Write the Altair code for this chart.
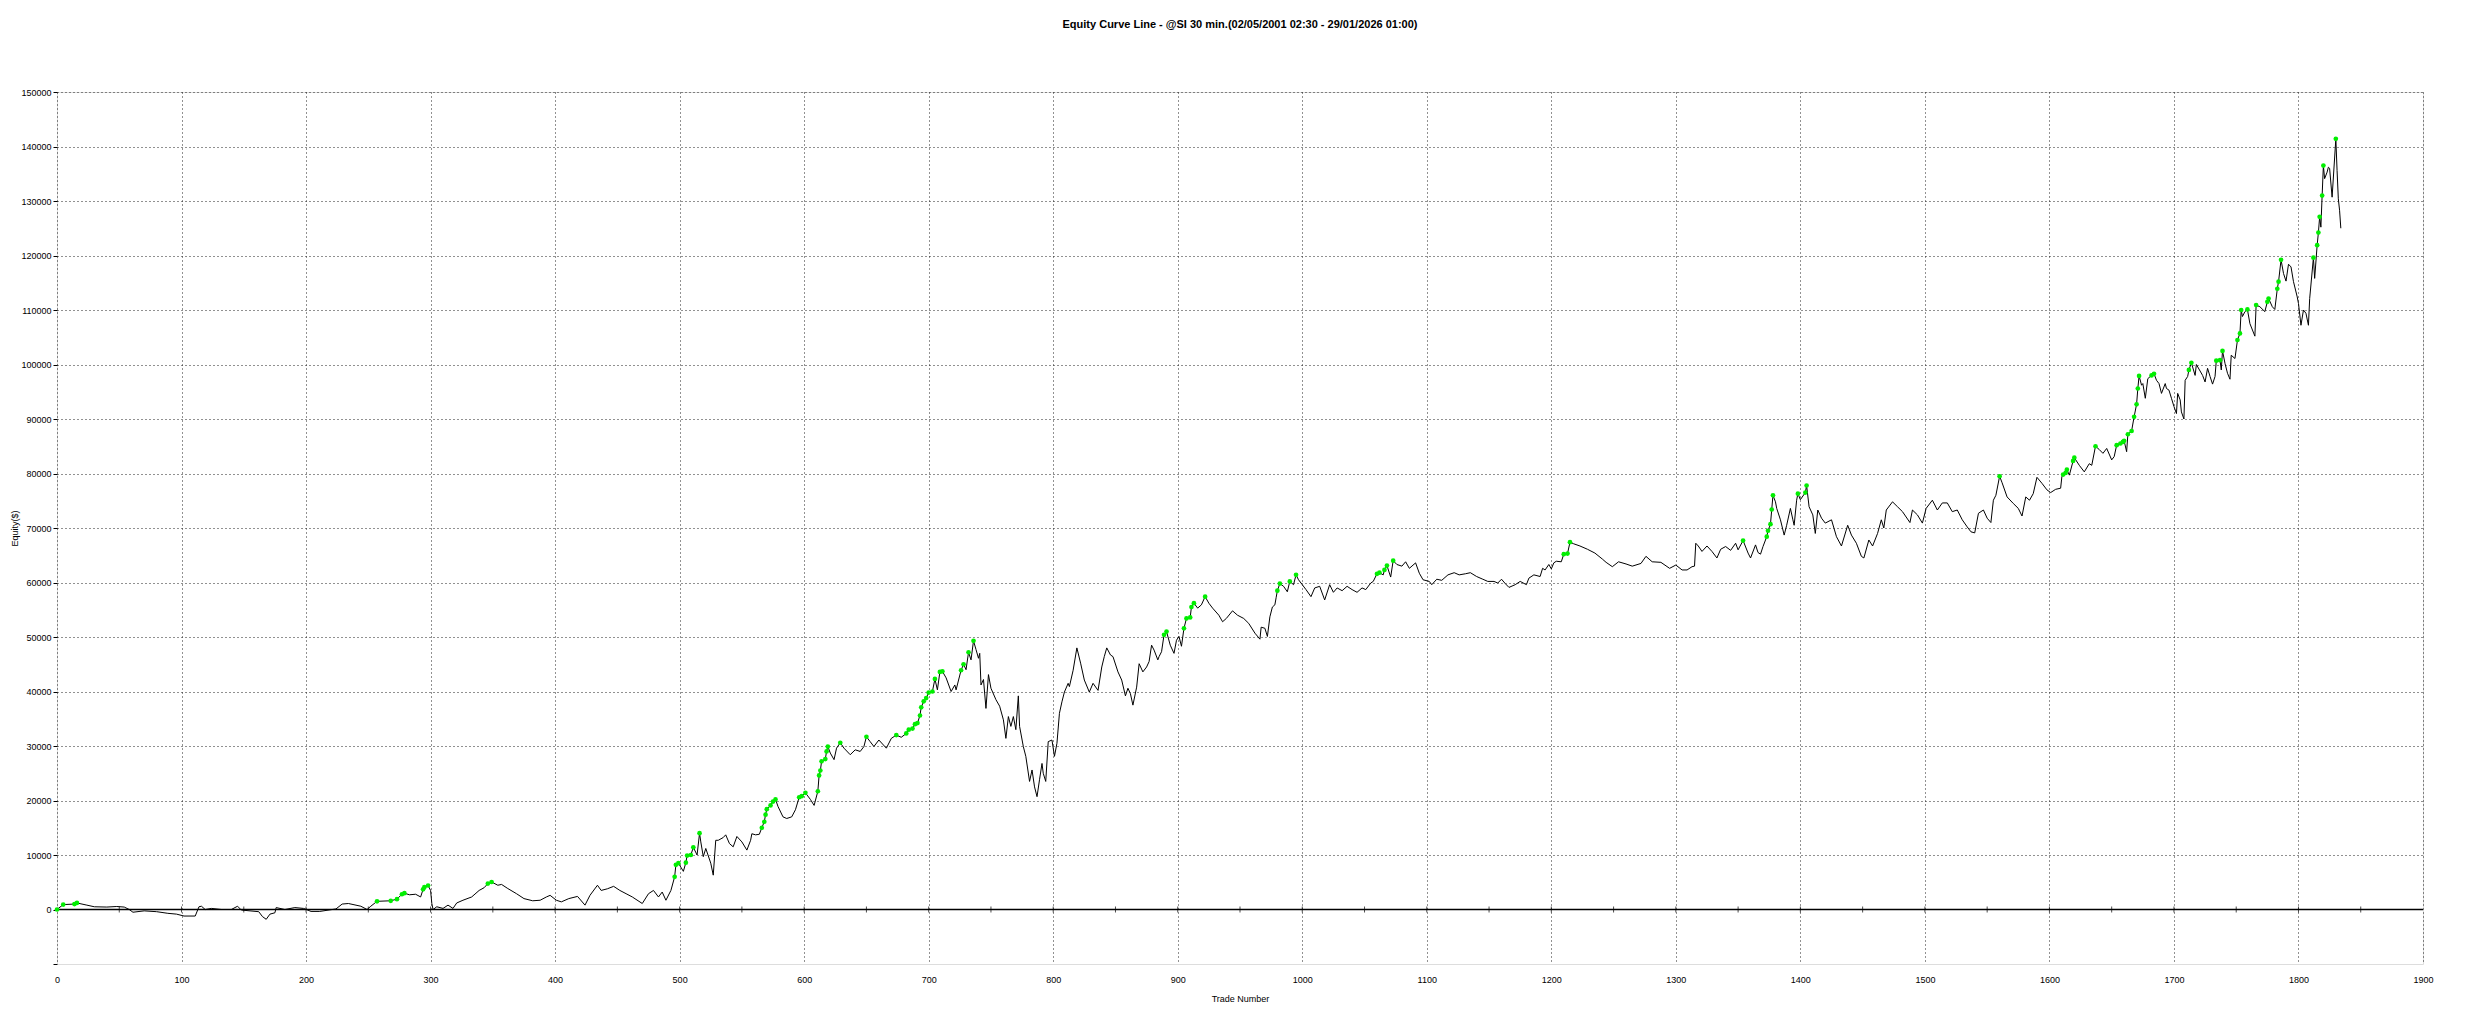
import altair as alt
import pandas as pd

TITLE = "Equity Curve Line - @SI 30 min.(02/05/2001 02:30 - 29/01/2026 01:00)"

trade_no = [
    0, 5, 14, 16, 24, 30, 40, 48, 54, 58, 61, 70, 80, 89, 96, 102, 111, 114, 116, 119,
    124, 132, 140, 145, 148, 155, 162, 165, 168, 171, 175, 176, 183, 191, 198, 204, 211, 221, 224, 229,
    234, 244, 249, 252, 257, 268, 273, 277, 279, 283, 288, 292, 294, 295, 298, 300, 301, 302, 305, 310,
    314, 318, 321, 326, 333, 339, 343, 346, 349, 354, 357, 362, 369, 375, 382, 388, 393, 396, 401, 405,
    411, 418, 424, 428, 434, 437, 442, 447, 452, 457, 462, 470, 475, 479, 483, 486, 489, 493, 496, 497,
    499, 503, 505, 506, 509, 511, 514, 516, 517, 519, 521, 525, 527, 529, 531, 535, 537, 540, 543, 546,
    550, 554, 557, 558, 561, 564, 566, 568, 569, 570, 573, 575, 577, 579, 583, 586, 590, 593, 596, 598,
    601, 605, 608, 611, 612, 613, 614, 617, 618, 619, 621, 624, 626, 629, 632, 637, 641, 645, 648, 650,
    653, 656, 660, 666, 670, 674, 678, 682, 684, 687, 689, 691, 693, 694, 696, 698, 700, 703, 705, 707,
    709, 711, 714, 718, 721, 722, 726, 728, 730, 732, 734, 736, 738, 740, 741, 742, 744, 746, 748, 750,
    754, 757, 760, 762, 764, 766, 768, 770, 772, 773, 776, 778, 781, 783, 785, 787, 789, 791, 792, 794,
    796, 799, 801, 803, 805, 807, 809, 812, 813, 816, 819, 822, 825, 829, 832, 836, 839, 841, 843, 846,
    848, 852, 855, 858, 860, 862, 864, 867, 869, 872, 875, 877, 879, 881, 884, 885, 887, 889, 891, 894,
    897, 899, 901, 903, 905, 907, 910, 911, 913, 916, 919, 922, 925, 928, 933, 936, 939, 944, 948, 953,
    957, 962, 966, 967, 970, 972, 974, 976, 978, 979, 980, 982, 985, 988, 990, 993, 995, 997, 1000, 1003,
    1007, 1010, 1014, 1018, 1022, 1025, 1028, 1032, 1036, 1040, 1044, 1048, 1051, 1055, 1057, 1060, 1062, 1065, 1066, 1068,
    1071, 1073, 1076, 1080, 1083, 1086, 1091, 1094, 1097, 1102, 1104, 1108, 1112, 1117, 1122, 1126, 1131, 1135, 1140, 1145,
    1149, 1154, 1157, 1160, 1163, 1166, 1171, 1175, 1180, 1182, 1186, 1191, 1193, 1195, 1198, 1200, 1202, 1204, 1208, 1210,
    1213, 1215, 1218, 1223, 1229, 1235, 1241, 1244, 1249, 1254, 1260, 1265, 1272, 1276, 1281, 1288, 1295, 1300, 1305, 1309,
    1313, 1315, 1316, 1318, 1321, 1325, 1329, 1333, 1336, 1340, 1344, 1348, 1350, 1354, 1358, 1360, 1364, 1366, 1368, 1370,
    1373, 1374, 1376, 1377, 1378, 1380, 1381, 1384, 1387, 1389, 1392, 1394, 1395, 1397, 1398, 1400, 1404, 1405, 1407, 1410,
    1412, 1414, 1417, 1420, 1425, 1429, 1433, 1438, 1441, 1445, 1449, 1451, 1455, 1458, 1462, 1465, 1467, 1469, 1474, 1478,
    1482, 1488, 1490, 1494, 1498, 1501, 1506, 1510, 1514, 1518, 1522, 1526, 1530, 1534, 1537, 1540, 1543, 1547, 1550, 1553,
    1555, 1557, 1560, 1562, 1566, 1571, 1575, 1578, 1581, 1584, 1587, 1590, 1594, 1598, 1601, 1605, 1609, 1610, 1611, 1613,
    1614, 1616, 1619, 1620, 1624, 1628, 1632, 1634, 1637, 1640, 1643, 1646, 1650, 1652, 1654, 1657, 1659, 1660, 1662, 1663,
    1666, 1668, 1670, 1671, 1672, 1674, 1675, 1677, 1679, 1682, 1684, 1686, 1688, 1690, 1693, 1694, 1696, 1698, 1700, 1702,
    1703, 1705, 1706, 1708, 1709, 1711, 1712, 1714, 1717, 1718, 1723, 1725, 1727, 1729, 1731, 1733, 1734, 1737, 1738, 1739,
    1741, 1743, 1745, 1746, 1749, 1751, 1753, 1754, 1755, 1757, 1759, 1761, 1765, 1766, 1769, 1773, 1775, 1776, 1779, 1781,
    1783, 1784, 1786, 1788, 1790, 1792, 1794, 1796, 1799, 1800, 1802, 1804, 1806, 1808, 1809, 1812, 1813, 1815, 1816, 1817,
    1818, 1819, 1820, 1821, 1823, 1824, 1825, 1827, 1830, 1831, 1832, 1833, 1834,
]

equity = [
    0, 900, 1000, 1200, 800, 500, 450, 550, 450, 0, -500, -250, -400, -700, -850, -1200, -1200, 500, 600, 0,
    200, 0, 0, 600, -100, -250, -400, -1300, -1800, -850, -600, 350, 0, 350, 200, -350, -350, 0, 100, 1000,
    1100, 600, 0, 600, 1500, 1600, 1900, 2800, 3000, 2700, 2800, 2300, 3700, 4100, 4400, 3500, 1100, 0, 500, 200,
    800, 200, 1200, 1700, 2300, 3500, 4000, 4750, 5050, 4450, 4600, 3850, 2900, 2000, 1600, 1700, 2300, 2600, 1700, 1400,
    2000, 2400, 800, 2600, 4450, 3500, 3800, 4250, 3500, 2900, 2300, 1100, 2900, 3500, 2300, 3200, 1700, 3500, 6000, 8200,
    8500, 7000, 8600, 9900, 10000, 11400, 10000, 14000, 12400, 9700, 11200, 8500, 6300, 12700, 12700, 13200, 13700, 12100, 11500, 13400,
    12400, 10900, 12700, 13900, 13700, 13800, 15000, 16100, 17400, 18400, 19100, 19800, 20200, 18900, 17000, 16700, 17000, 18300, 20600, 20800,
    21400, 20200, 19100, 21700, 24600, 25500, 27200, 27600, 29000, 29900, 28700, 27500, 29600, 30600, 29600, 28400, 29300, 29000, 29900, 31700,
    30800, 29900, 31100, 29600, 31400, 32000, 31600, 32300, 33000, 33200, 34000, 34200, 35600, 37100, 38200, 38800, 39800, 40000, 42300, 40300,
    43600, 43700, 42500, 40000, 41200, 40300, 43900, 45000, 44000, 47200, 45800, 49300, 47700, 46100, 47000, 41200, 42200, 36900, 43100, 40600,
    38500, 37300, 34800, 31400, 35400, 33600, 35400, 33000, 39200, 33600, 29900, 28100, 23500, 25600, 22500, 20700, 23800, 26800, 25000, 23500,
    30800, 31100, 28100, 30500, 36000, 38100, 39900, 41500, 40900, 43900, 48000, 45200, 42100, 39900, 41500, 40200, 44500, 46400, 48000, 46700,
    46400, 43600, 42100, 39200, 40600, 39600, 37500, 40800, 45100, 43600, 44500, 45500, 48500, 47600, 45800, 46400, 47300, 50400, 51000, 48500,
    47000, 49400, 50100, 48300, 51600, 53400, 53600, 55500, 56200, 55300, 55900, 57400, 56200, 55300, 54000, 52800, 53400, 54800, 54000, 53400,
    52500, 50700, 49600, 51800, 51600, 50100, 53700, 55500, 55900, 57200, 58500, 59800, 59300, 58300, 60200, 59600, 61400, 60500, 59600, 58700,
    57400, 59000, 59300, 56800, 59600, 58200, 59000, 58500, 59300, 58700, 58200, 59000, 58700, 59900, 60200, 61600, 61800, 61400, 62300, 63100,
    61000, 64000, 63300, 63000, 63800, 62600, 63600, 61700, 60500, 60200, 59600, 60600, 60400, 61400, 61800, 61400, 61600, 61800, 61100, 60600,
    60200, 60200, 59900, 60600, 59800, 59100, 59600, 60200, 59600, 60800, 61400, 61100, 62600, 62300, 63300, 62500, 63600, 63900, 63800, 65200,
    65300, 67400, 67100, 66700, 66100, 65400, 64300, 63700, 62900, 63800, 63400, 63000, 63500, 64800, 63800, 63700, 62600, 63200, 62300, 62300,
    62900, 63000, 67200, 66700, 65700, 66700, 65700, 64500, 66100, 66600, 65900, 67200, 66000, 67700, 65400, 64500, 66900, 65500, 65200, 66600,
    68400, 69500, 70700, 73400, 76000, 74800, 73600, 71500, 68700, 70500, 73600, 71500, 70500, 75100, 76300, 75200, 76500, 77800, 73900, 72400,
    69000, 73300, 71800, 70900, 71500, 68400, 66700, 70500, 68700, 67200, 64800, 64500, 67800, 66700, 69000, 71500, 70000, 73300, 74800, 73900,
    73000, 71000, 73300, 72400, 70900, 73600, 75100, 73300, 74600, 74600, 73000, 73300, 71500, 70200, 69300, 69100, 72700, 73300, 71800, 71000,
    75100, 76000, 79500, 78300, 75700, 74500, 73600, 72200, 75700, 75100, 76300, 79300, 78200, 77000, 76500, 77100, 77300, 79400, 79800, 80100,
    80700, 79700, 82300, 82900, 81500, 80300, 81800, 81500, 85000, 84400, 83700, 84600, 82500, 83100, 85200, 85500, 85800, 86000, 84000, 87200,
    87800, 90400, 92700, 95600, 97900, 96200, 96500, 93800, 97400, 98000, 98300, 97100, 96500, 94700, 96500, 95600, 95300, 93800, 92300, 91000,
    94700, 93500, 91300, 90000, 97100, 97800, 99000, 100300, 98000, 100000, 98000, 96800, 99300, 97800, 96400, 97800, 100700, 100800, 99000, 102500,
    100200, 98400, 97300, 101700, 101100, 104500, 105700, 110000, 108800, 109700, 110100, 107500, 105200, 110900, 110600, 109700, 111500, 112100, 110600, 110100,
    113900, 115200, 119200, 116700, 115300, 118400, 117900, 115200, 112400, 111200, 107200, 110000, 109400, 107200, 112100, 119600, 115800, 121900, 124200, 127100,
    125200, 131000, 136500, 134100, 135300, 136200, 136000, 130700, 141400, 135600, 130400, 128300, 125000,
]

# trades at which a new equity high was reached (green markers)
new_high_trades = [
    0, 5, 14, 16, 257, 268, 273, 277, 279, 294, 295, 298, 346, 349, 496, 497, 499, 505, 506, 509,
    511, 516, 566, 568, 569, 570, 573, 575, 577, 596, 598, 601, 611, 612, 613, 614, 617, 618, 619, 629,
    650, 674, 682, 684, 687, 689, 691, 693, 694, 696, 698, 700, 703, 705, 709, 711, 726, 728, 732, 736,
    889, 891, 905, 907, 910, 911, 913, 922, 980, 982, 990, 995, 1060, 1062, 1066, 1068, 1073, 1210, 1213, 1215,
    1354, 1373, 1374, 1376, 1377, 1378, 1398, 1404, 1405, 1560, 1611, 1613, 1614, 1619, 1620, 1637, 1654, 1657, 1659, 1660,
    1663, 1666, 1668, 1670, 1671, 1672, 1682, 1684, 1712, 1714, 1734, 1737, 1739, 1751, 1753, 1754, 1759, 1766, 1775, 1776,
    1783, 1784, 1786, 1812, 1815, 1816, 1817, 1819, 1820, 1830,
]

x_ticks = list(range(0, 2000, 100))
y_ticks = list(range(-10000, 155000, 5000))
zero_line_ticks = list(range(50, 1900, 50))

curve = pd.DataFrame({"trade": trade_no, "equity": equity})
lookup = dict(zip(trade_no, equity))
highs = pd.DataFrame({"trade": new_high_trades,
                      "equity": [lookup[t] for t in new_high_trades]})
zero_df = pd.DataFrame({"equity": [0]})
zt_df = pd.DataFrame({"trade": zero_line_ticks, "equity": [0] * len(zero_line_ticks)})

FONT = "Liberation Sans"

x_enc = alt.X(
    "trade:Q",
    scale=alt.Scale(domain=[0, 1900], nice=False, zero=False),
    axis=alt.Axis(
        values=x_ticks, format="d", grid=True, gridDash=[1, 3], gridColor="#222",
        gridWidth=1, ticks=False, domain=False, labelPadding=11, labelFontSize=9,
        labelFont=FONT, labelColor="#000", labelFlush=False,
        title="Trade Number", titleFont=FONT, titleFontSize=9, titleFontWeight="normal",
        titleColor="#000", titleBaseline="middle", titleY=34,
    ),
)
y_enc = alt.Y(
    "equity:Q",
    scale=alt.Scale(domain=[-10000, 150000], nice=False, zero=False),
    axis=alt.Axis(
        values=y_ticks, format="d", grid=True, gridDash=[1, 3], gridColor="#222",
        gridWidth=1,
        gridOpacity={"condition": {"test": "datum.value % 10000 != 0 || datum.value <= 0", "value": 0}, "value": 1},
        labelExpr="(datum.value % 10000 == 0 && datum.value >= 0) ? datum.label : ''",
        ticks=True, tickSize=4, tickColor="#000", domain=False, labelPadding=2,
        labelFontSize=9, labelFont=FONT, labelColor="#000", labelFlush=False,
        title="Equity($)", titleFont=FONT, titleFontSize=9, titleFontWeight="normal",
        titleColor="#000", titleAngle=270, titleX=-43, titleY=436,
        titleBaseline="middle", titleAlign="center",
    ),
)

line = alt.Chart(curve).mark_line(color="#000", strokeWidth=1, interpolate="linear").encode(
    x=x_enc, y=y_enc, order="trade:Q"
)
zero_line = alt.Chart(zero_df).mark_rule(color="#000", strokeWidth=1.3).encode(y="equity:Q")
zero_ticks = alt.Chart(zt_df).mark_tick(orient="vertical", size=6, thickness=1, color="#000").encode(
    x="trade:Q", y="equity:Q"
)
dots = alt.Chart(highs).mark_circle(color="#00ee00", size=22, opacity=1).encode(
    x="trade:Q", y="equity:Q"
)

chart = alt.layer(line, zero_line, zero_ticks, dots).properties(
    width=2366,
    height=872,
    autosize=alt.AutoSizeParams(type="none"),
    padding={"left": 49, "top": 84, "right": 49, "bottom": 50},
    title=alt.TitleParams(
        TITLE, font=FONT, fontSize=11, fontWeight="bold", color="#000",
        anchor="middle", frame="group", offset=58,
    ),
).configure_view(
    stroke="#000", strokeWidth=1.2
).configure(background="white")

chart.save("out.html", embed_options={"renderer": "svg", "actions": False})
